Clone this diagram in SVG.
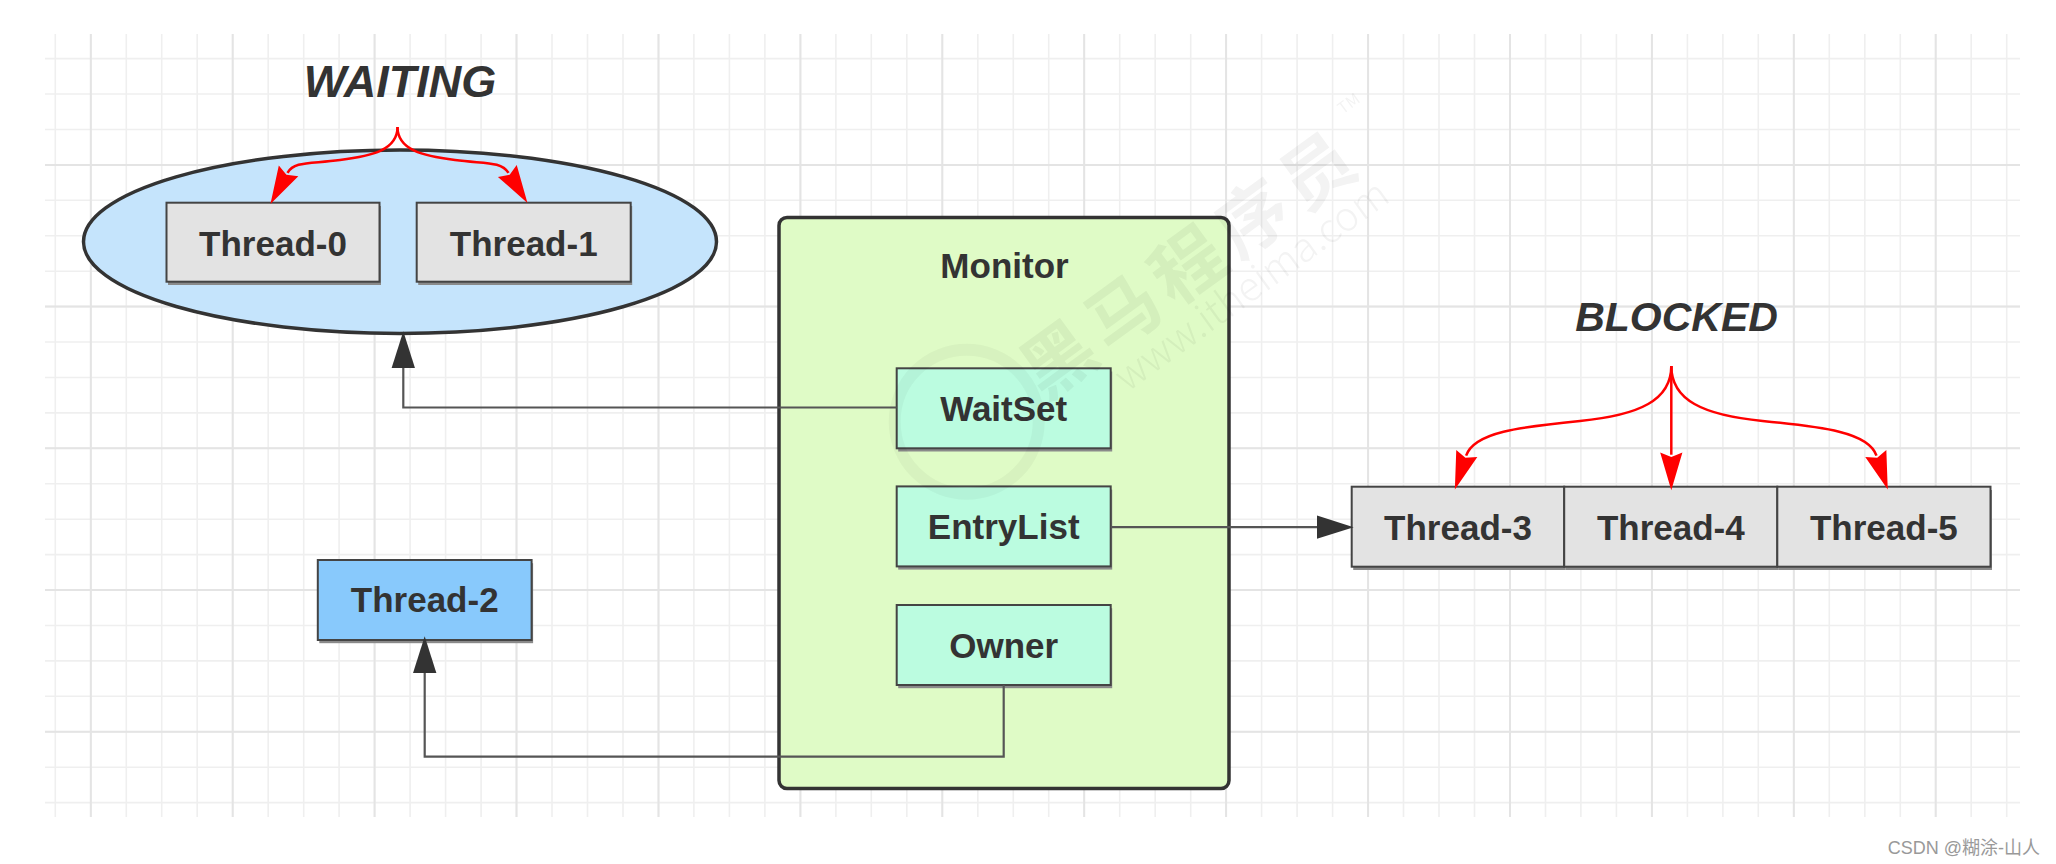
<svg xmlns="http://www.w3.org/2000/svg" width="2056" height="864" viewBox="0 0 2056 864">
<defs>
<style>
.grid{fill:none;stroke:#efefef;stroke-width:1.6}
.gridm{fill:none;stroke:#e4e4e4;stroke-width:2}
.lbl{font-family:"Liberation Sans",Arial,sans-serif;font-weight:bold;font-size:35px;fill:#333;text-anchor:middle}
.state{font-family:"Liberation Sans",Arial,sans-serif;font-weight:bold;font-style:italic;fill:#333;text-anchor:middle}
.thr{fill:#e3e3e3;stroke:#444;stroke-width:2}
.inner{fill:#bbfce0;stroke:#444;stroke-width:2}
.shadow{fill:#8a8a8a}
.conn{fill:none;stroke:#555;stroke-width:2.2}
.red{fill:none;stroke:#ff0000;stroke-width:2.5}
.wm{font-family:"Noto Sans CJK SC","Liberation Sans",sans-serif;fill:#000}
</style>
<marker id="ah" markerUnits="userSpaceOnUse" markerWidth="40" markerHeight="30" refX="0" refY="0" viewBox="0 -12 36 24" orient="auto" overflow="visible">
<path d="M0,-10.5 L33,0 L0,10.5 z" fill="#333"/>
</marker>
<marker id="rh" markerUnits="userSpaceOnUse" markerWidth="40" markerHeight="30" refX="0" refY="0" viewBox="0 -12 36 24" orient="auto" overflow="visible">
<path d="M-2,-10 L32,0 L-2,10 L2,0 z" fill="#ff0000"/>
</marker>
</defs>
<rect width="2056" height="864" fill="#ffffff"/>
<g id="grid">
<path class="grid" d="M55.3 34V817M90.8 34V817M126.3 34V817M161.7 34V817M197.2 34V817M232.7 34V817M268.2 34V817M303.7 34V817M339.1 34V817M374.6 34V817M410.1 34V817M445.6 34V817M481.1 34V817M516.5 34V817M552 34V817M587.5 34V817M623 34V817M658.5 34V817M693.9 34V817M729.4 34V817M764.9 34V817M800.4 34V817M835.9 34V817M871.3 34V817M906.8 34V817M942.3 34V817M977.8 34V817M1013.3 34V817M1048.7 34V817M1084.2 34V817M1119.7 34V817M1155.2 34V817M1190.7 34V817M1226.1 34V817M1261.6 34V817M1297.1 34V817M1332.6 34V817M1368.1 34V817M1403.5 34V817M1439 34V817M1474.5 34V817M1510 34V817M1545.5 34V817M1580.9 34V817M1616.4 34V817M1651.9 34V817M1687.4 34V817M1722.9 34V817M1758.3 34V817M1793.8 34V817M1829.3 34V817M1864.8 34V817M1900.3 34V817M1935.7 34V817M1971.2 34V817M2006.7 34V817"/>
<path class="grid" d="M45 58.6H2020M45 94H2020M45 129.5H2020M45 164.9H2020M45 200.3H2020M45 235.8H2020M45 271.2H2020M45 306.6H2020M45 342H2020M45 377.5H2020M45 412.9H2020M45 448.3H2020M45 483.8H2020M45 519.2H2020M45 554.6H2020M45 590.1H2020M45 625.5H2020M45 660.9H2020M45 696.3H2020M45 731.8H2020M45 767.2H2020M45 802.6H2020"/>
<path class="gridm" d="M90.8 34V817M232.7 34V817M374.6 34V817M516.5 34V817M658.5 34V817M800.4 34V817M942.3 34V817M1084.2 34V817M1226.1 34V817M1368.1 34V817M1510 34V817M1651.9 34V817M1793.8 34V817M1935.7 34V817M45 164.9H2020M45 306.6H2020M45 448.3H2020M45 590.1H2020M45 731.8H2020"/>
</g>
<g id="waiting-set">
<ellipse cx="400" cy="241.7" rx="316.5" ry="91.7" fill="#c5e4fc" stroke="#333" stroke-width="3.5"/>
</g>
<g id="monitor">
<rect x="779" y="217.5" width="450" height="571" rx="8" fill="#dffbc6" stroke="#333" stroke-width="3.5"/>
<text class="lbl" x="1004.5" y="278" font-size="36">Monitor</text>
</g>
<g id="label-waiting"><text class="state" x="400" y="97" font-size="45">WAITING</text></g>
<g id="label-blocked"><text class="state" x="1676.5" y="331" font-size="41">BLOCKED</text></g>
<g id="thread-0">
<rect class="shadow" x="168" y="206" width="213" height="79"/>
<rect class="thr" x="166.5" y="202.7" width="213" height="79"/>
<text class="lbl" x="273" y="255.5">Thread-0</text>
</g>
<g id="thread-1">
<rect class="shadow" x="418.2" y="206" width="214" height="79"/>
<rect class="thr" x="416.7" y="202.7" width="214" height="79"/>
<text class="lbl" x="523.7" y="255.5">Thread-1</text>
</g>
<g id="waitset">
<rect class="shadow" x="898.2" y="371.5" width="214" height="80"/>
<rect class="inner" x="896.7" y="368.3" width="214" height="80"/>
<text class="lbl" x="1003.7" y="421">WaitSet</text>
</g>
<g id="entrylist">
<rect class="shadow" x="898.2" y="489.6" width="214" height="80"/>
<rect class="inner" x="896.7" y="486.4" width="214" height="80"/>
<text class="lbl" x="1003.7" y="539">EntryList</text>
</g>
<g id="owner">
<rect class="shadow" x="898.2" y="608.2" width="214" height="80"/>
<rect class="inner" x="896.7" y="605" width="214" height="80"/>
<text class="lbl" x="1003.7" y="658">Owner</text>
</g>
<g id="thread-2">
<rect class="shadow" x="319.3" y="563.2" width="213.8" height="80"/>
<rect x="317.8" y="560" width="213.8" height="80" fill="#88c9fc" stroke="#444" stroke-width="2"/>
<text class="lbl" x="424.7" y="612">Thread-2</text>
</g>
<g id="thread-3">
<rect class="shadow" x="1353.2" y="490" width="212.5" height="80"/>
<rect class="thr" x="1351.7" y="486.7" width="212.5" height="80"/>
<text class="lbl" x="1458" y="539.5">Thread-3</text>
</g>
<g id="thread-4">
<rect class="shadow" x="1565.7" y="490" width="213.1" height="80"/>
<rect class="thr" x="1564.2" y="486.7" width="213.1" height="80"/>
<text class="lbl" x="1670.8" y="539.5">Thread-4</text>
</g>
<g id="thread-5">
<rect class="shadow" x="1778.8" y="490" width="213.2" height="80"/>
<rect class="thr" x="1777.3" y="486.7" width="213.2" height="80"/>
<text class="lbl" x="1883.9" y="539.5">Thread-5</text>
</g>
<g id="connectors">
<path class="conn" d="M896.7,407.5 H403.3 V368" marker-end="url(#ah)"/>
<path class="conn" d="M1110.7,527.2 H1317" marker-end="url(#ah)"/>
<path class="conn" d="M1003.7,685 V756.7 H424.7 V673" marker-end="url(#ah)"/>
<path class="red" d="M397.5,127 C397.5,150 372,156 340,160 C310,164 294,161 287.5,172.9" marker-end="url(#rh)"/>
<path class="red" d="M397.5,127 C397.5,150 423,156 455,160 C485,164 501,161 508.5,172.9" marker-end="url(#rh)"/>
<path class="red" d="M1671.3,366 C1671.3,400 1640,415 1580,421 C1520,427 1474,432 1466.1,455.7" marker-end="url(#rh)"/>
<path class="red" d="M1671.3,366 V454.7" marker-end="url(#rh)"/>
<path class="red" d="M1671.3,366 C1671.3,400 1702.6,415 1762.6,421 C1822.6,427 1868.6,432 1876.5,455.7" marker-end="url(#rh)"/>
</g>
<g id="watermark" opacity="0.05">
<circle cx="966.7" cy="421.7" r="72" fill="none" stroke="#000" stroke-width="12" opacity="0.7"/>
<text class="wm" transform="translate(1191,263) rotate(-36)" x="0" y="26" font-size="72" font-weight="bold" letter-spacing="8" text-anchor="middle">黑马程序员</text>
<text class="wm" transform="translate(1352,108) rotate(-36)" font-size="16" text-anchor="middle">TM</text>
<text class="wm" transform="translate(1252,286) rotate(-36)" x="0" y="13" font-size="40" font-weight="300" text-anchor="middle">www.itheima.com</text>
</g>
<g id="credit">
<text x="2040" y="854" font-family="'Liberation Sans','Noto Sans CJK SC',Arial,sans-serif" font-size="18" fill="#999" text-anchor="end">CSDN @糊涂-山人</text>
</g>
</svg>
